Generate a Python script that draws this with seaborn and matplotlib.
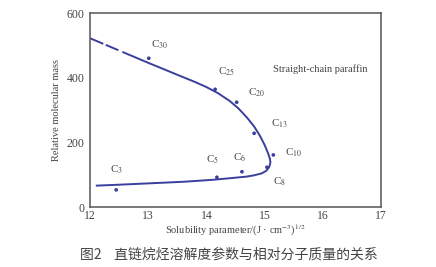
import matplotlib
matplotlib.use("Agg")
import matplotlib.pyplot as plt
import seaborn as sns
import pandas as pd

# ---- data ----
labels = ["C$_3$", "C$_5$", "C$_6$", "C$_8$", "C$_{10}$", "C$_{13}$", "C$_{20}$", "C$_{25}$", "C$_{30}$"]
solubility = [12.45, 14.18, 14.61, 15.04, 15.15, 14.82, 14.52, 14.15, 13.01]
mass = [53, 92, 109, 123, 161, 228, 324, 364, 460]
label_x = [12.46, 14.10, 14.57, 15.26, 15.49, 15.25, 14.86, 14.35, 13.20]
label_y = [114, 145, 151, 78, 169, 257, 354, 417, 501]

curve_x = [12.0, 12.5, 13.0, 13.5, 13.8, 14.0, 14.2, 14.4, 14.55, 14.7, 14.82, 14.92, 15.0,
           15.06, 15.09, 15.10, 15.08, 15.03, 14.95, 14.82, 14.69, 14.4, 14.1, 13.6, 13.0,
           12.5, 12.1]
curve_y = [522, 484, 446, 409, 387, 371, 352, 328, 305, 276, 249, 220, 192,
           166, 150, 138, 124, 112, 104, 98, 94, 89, 84, 78, 73, 69, 66]

x_ticks = [12, 13, 14, 15, 16, 17]
y_ticks = [0, 200, 400, 600]

sns.set_theme(style="white")
plt.rcParams["font.family"] = ["Liberation Serif", "DejaVu Sans"]
plt.rcParams["mathtext.fontset"] = "stix"
plt.rcParams["lines.scale_dashes"] = False

text_col = "#444444"
line_col = "#3a3e9c"

fig = plt.figure(figsize=(4.36, 2.67), dpi=100)
ax = fig.add_axes([0.2064, 0.2247, 0.6675, 0.7266])

curve = pd.DataFrame({"x": curve_x, "y": curve_y})
sns.lineplot(data=curve, x="x", y="y", sort=False, ax=ax, color=line_col, lw=1.4,
             estimator=None)
ax.lines[-1].set_linestyle((0, (10.4, 1.9, 9.9, 3.1, 2000, 1)))

pts = pd.DataFrame({"x": solubility, "y": mass})
sns.scatterplot(data=pts, x="x", y="y", ax=ax, color=line_col, s=7, edgecolor="none")

for lab, lx, ly in zip(labels, label_x, label_y):
    ax.text(lx, ly, lab, ha="center", va="center", fontsize=8, color=text_col)

ax.text(15.95, 427, "Straight-chain paraffin", ha="center", va="center",
        fontsize=7.5, color=text_col)

ax.set_xlim(12, 17)
ax.set_ylim(0, 600)
ax.set_xticks(x_ticks)
ax.set_yticks(y_ticks)
ax.tick_params(axis="x", direction="in", length=3, width=0.8, colors=text_col,
               labelsize=8.5, pad=2)
ax.tick_params(axis="y", direction="out", length=3, width=0.8, colors=text_col,
               labelsize=8.5, pad=1)
for s in ax.spines.values():
    s.set_color("#555555")
    s.set_linewidth(1.1)

ax.set_xlabel("Solubility parameter/(J · cm$^{-3}$)$^{1/2}$", fontsize=7.5,
              color=text_col, labelpad=1)
ax.set_ylabel("Relative molecular mass", fontsize=7.5, color=text_col, labelpad=4)

fig.text(0.525, 0.045, "图2    直链烷烃溶解度参数与相对分子质量的关系", ha="center", va="center",
         fontsize=10, color=text_col, family=["Noto Sans CJK SC", "DejaVu Sans"])

fig.savefig("out.png", dpi=100, facecolor="white")
